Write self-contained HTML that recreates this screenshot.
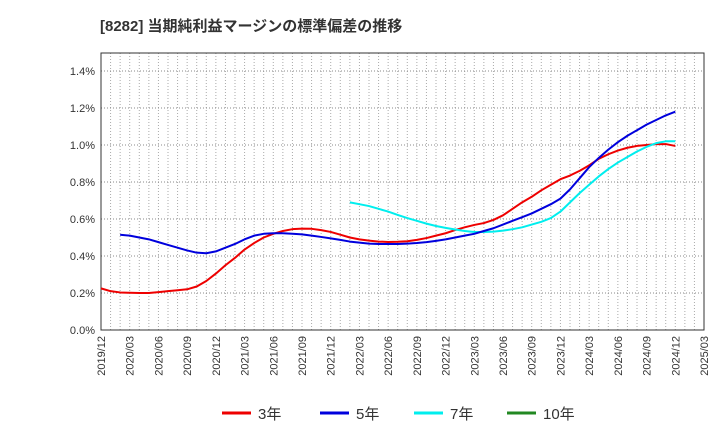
<!DOCTYPE html>
<html><head><meta charset="utf-8"><style>
body{margin:0;background:#fff;width:720px;height:440px;overflow:hidden;font-family:"Liberation Sans","Noto Sans CJK JP",sans-serif;}
</style></head><body>
<svg id="chart" width="720" height="440" xmlns="http://www.w3.org/2000/svg" font-family="Liberation Sans, Noto Sans CJK JP, sans-serif">
<text x="100" y="31" font-size="15" font-weight="bold" fill="#333">[8282]  当期純利益マージンの標準偏差の推移</text>
<g id="grid"></g><g id="axes"></g><g id="series"></g><g id="legend"></g>
</svg>
<script>
const yTicks=[0,0.2,0.4,0.6,0.8,1.0,1.2,1.4];
const xTickLabels=["2019/12","2020/03","2020/06","2020/09","2020/12","2021/03","2021/06","2021/09","2021/12","2022/03","2022/06","2022/09","2022/12","2023/03","2023/06","2023/09","2023/12","2024/03","2024/06","2024/09","2024/12","2025/03"];
const s3Start=0;
const s3=[.225,.21,.203,.201,.2,.2,.205,.21,.215,.22,.235,.265,.305,.35,.39,.435,.47,.50,.52,.535,.545,.548,.547,.54,.53,.515,.50,.49,.483,.478,.476,.477,.48,.487,.497,.51,.523,.54,.555,.568,.578,.595,.62,.655,.69,.72,.755,.785,.815,.835,.86,.89,.925,.95,.97,.985,.995,1.0,1.005,1.005,.995];
const s5Start=2;
const s5=[.515,.51,.50,.49,.475,.46,.445,.43,.418,.415,.425,.445,.465,.49,.51,.52,.523,.523,.52,.517,.51,.503,.495,.487,.478,.472,.467,.465,.465,.465,.467,.47,.475,.482,.49,.5,.51,.52,.535,.55,.57,.59,.61,.63,.655,.68,.71,.76,.82,.88,.93,.975,1.015,1.05,1.08,1.11,1.135,1.16,1.18];
const s7Start=26;
const s7=[.69,.68,.67,.655,.64,.622,.605,.59,.575,.562,.552,.543,.535,.53,.53,.532,.537,.545,.555,.57,.585,.605,.64,.69,.74,.785,.83,.87,.905,.935,.965,.99,1.01,1.02,1.02];
const s10Start=0;
const s10=[];
const NS="http://www.w3.org/2000/svg";
const L=101,R=704,T=53,B=330,months=63;
const xs=m=>L+(R-L)*m/months;
const ys=v=>B-(B-71)*v/1.4;
function el(t,a,p){const e=document.createElementNS(NS,t);for(const k in a)e.setAttribute(k,a[k]);p.appendChild(e);return e;}
const grid=document.getElementById('grid'),axes=document.getElementById('axes'),ser=document.getElementById('series'),leg=document.getElementById('legend');
for(let m=1;m<months;m++){const g=el('line',{x1:xs(m),x2:xs(m),y1:T,y2:B,stroke:'#aaa','stroke-width':1,'stroke-dasharray':'1,2'},grid);

}
yTicks.forEach(v=>{if(v>0){const g=el('line',{x1:L,x2:R,y1:ys(v),y2:ys(v),stroke:'#888','stroke-width':1,'stroke-dasharray':'1,2'},grid);

}
const t=el('text',{x:L-6,y:ys(v)+4,'text-anchor':'end','font-size':11,fill:'#333'},axes);t.textContent=v.toFixed(1)+'%';

});
const fr=el('rect',{x:L,y:T,width:R-L,height:B-T,fill:'none',stroke:'#333','stroke-width':1},axes);


xTickLabels.forEach((lab,i)=>{const x=xs(i*3);const t=el('text',{transform:`translate(${x+4},336) rotate(-90)`,'text-anchor':'end','font-size':11,fill:'#333'},axes);t.textContent=lab;

});
function line(data,start,color,name){if(!data.length)return;const d=data.map((v,i)=>(i?'L':'M')+xs(start+i).toFixed(2)+','+ys(v).toFixed(2)).join('');
const p=el('path',{d:d,fill:'none',stroke:color,'stroke-width':2,'stroke-linejoin':'round'},ser);

}
line(s3,s3Start,'#ee0000','series-3y');
line(s7,s7Start,'#00eeee','series-7y');
line(s5,s5Start,'#0000dd','series-5y');
line(s10,s10Start,'#228822','series-10y');
[['3年','#ee0000',222],['5年','#0000dd',320],['7年','#00eeee',414],['10年','#228822',507]].forEach(([n,c,x])=>{
const g=el('g',{},leg);


el('line',{x1:x,x2:x+29,y1:413,y2:413,stroke:c,'stroke-width':3},g);
const t=el('text',{x:x+36,y:419,'font-size':15,fill:'#333'},g);t.textContent=n;});
</script>
</body></html>
